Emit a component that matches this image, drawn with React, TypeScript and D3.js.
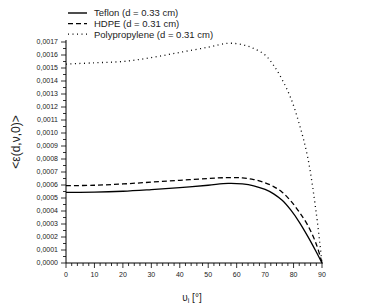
import React from "react";
import * as d3 from "d3";

const angles = [0, 10, 20, 30, 40, 50, 57, 62, 66, 70, 73, 76, 79, 82, 85, 88, 90];
const teflon = [0.000544, 0.000545, 0.000552, 0.000565, 0.00058, 0.000598, 0.000612, 0.000608, 0.000594, 0.000566, 0.000532, 0.000482, 0.000408, 0.000315, 0.000205, 0.000085, 0];
const hdpe = [0.000595, 0.000598, 0.000608, 0.000622, 0.000636, 0.00065, 0.000657, 0.000655, 0.000642, 0.000617, 0.000588, 0.000545, 0.000478, 0.000392, 0.00029, 0.000145, 0];
const polypropylene = [0.00153, 0.00154, 0.00155, 0.00158, 0.00162, 0.00166, 0.00169, 0.00168, 0.00165, 0.0016, 0.00152, 0.00141, 0.00127, 0.00107, 0.00081, 0.00038, 0];
const seriesNames = ["Teflon (d = 0.33 cm)", "HDPE (d = 0.31 cm)", "Polypropylene (d = 0.31 cm)"];
const dashes = ["none", "5,3", "1,3.5"];
const xTicks = [0, 10, 20, 30, 40, 50, 60, 70, 80, 90];
const yTicks = d3.range(0, 18).map((i) => i * 0.0001);

export default function App() {
  const x = d3.scaleLinear().domain([0, 90]).range([66, 322]);
  const y = d3.scaleLinear().domain([0, 0.0017]).range([263, 42]);
  const all = [teflon, hdpe, polypropylene];
  const line = d3
    .line<number>()
    .x((_, i) => x(angles[i]))
    .y((d) => y(d))
    .curve(d3.curveCatmullRom.alpha(0.5));
  const font = "Arial, 'Liberation Sans', sans-serif";
  const xMinor = d3.range(0, 91, 2);
  const yMinor = d3.range(0, 35).map((i) => i * 0.00005);
  return (
    <svg width={374} height={305} style={{ position: "absolute", left: 0, top: 0 }} fontFamily={font}>
      <rect width={374} height={305} fill="#fff" />
      {all.map((s, k) => (
        <path key={k} d={line(s) || ""} fill="none" stroke="#000" strokeWidth={k === 2 ? 1.3 : 1.3} strokeDasharray={dashes[k]} />
      ))}
      {/* axes */}
      <line x1={66} x2={66} y1={40} y2={263} stroke="#000" strokeWidth={1} />
      <line x1={66} x2={323} y1={263} y2={263} stroke="#000" strokeWidth={1} />
      {yMinor.map((v, i) => (
        <line key={"ym" + i} x1={66} x2={i % 2 === 0 ? 61 : 63} y1={y(v)} y2={y(v)} stroke="#000" strokeWidth={0.8} />
      ))}
      {yTicks.map((v, i) => (
        <text key={"yt" + i} x={58} y={y(v)} dy="0.35em" fontSize={7} textAnchor="end" fill="#222">
          {v.toFixed(4).replace(".", ",")}
        </text>
      ))}
      {xMinor.map((v, i) => (
        <line key={"xm" + i} x1={x(v)} x2={x(v)} y1={263} y2={v % 10 === 0 ? 268 : 266} stroke="#000" strokeWidth={0.8} />
      ))}
      {xTicks.map((v, i) => (
        <text key={"xt" + i} x={x(v)} y={277} fontSize={7} textAnchor="middle" fill="#222">
          {v}
        </text>
      ))}
      <text x={192} y={301} fontSize={10} textAnchor="middle" fill="#222">
        υ<tspan fontSize={7} dy={2}>i</tspan>
        <tspan dy={-2}> [°]</tspan>
      </text>
      <text transform="translate(20,142) rotate(-90)" fontSize={12} textAnchor="middle" fill="#222">
        {"<ε(d,ν,0)>"}
      </text>
      {/* legend */}
      {seriesNames.map((n, k) => (
        <g key={"lg" + k} transform={`translate(0,${13 + k * 10.6})`}>
          <line x1={68} x2={87} y1={0} y2={0} stroke="#000" strokeWidth={k === 0 ? 1.4 : 1.2} strokeDasharray={dashes[k]} />
          <text x={94} y={0} dy="0.35em" fontSize={9.5} fill="#222">
            {n}
          </text>
        </g>
      ))}
    </svg>
  );
}
